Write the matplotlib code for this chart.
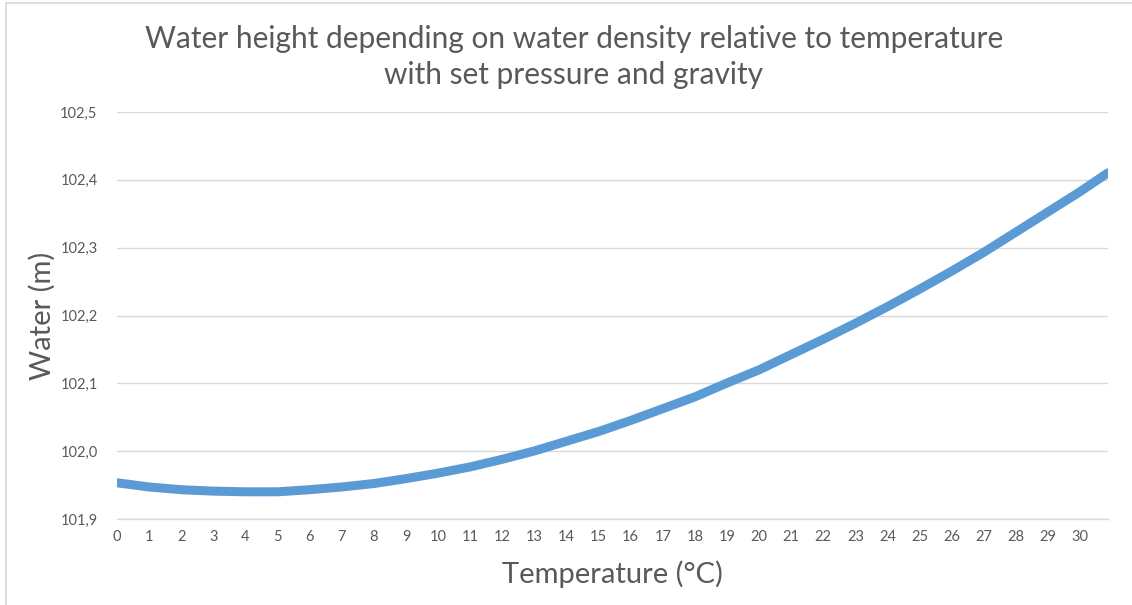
import matplotlib
matplotlib.use('Agg')
import matplotlib.pyplot as plt
from matplotlib.lines import Line2D
from matplotlib.ticker import FuncFormatter

# Temperature (°C) and water height (m)
temperature = [0, 1, 2, 3, 4, 5, 6, 7, 8, 9, 10, 11, 12, 13, 14, 15,
               16, 17, 18, 19, 20, 21, 22, 23, 24, 25, 26, 27, 28, 29, 30, 30.87]
height = [101.9535, 101.9473, 101.9433, 101.9412, 101.9402, 101.9402, 101.9433,
          101.9473, 101.9524, 101.9596, 101.9677, 101.9769, 101.9881, 102.0004,
          102.0147, 102.0290, 102.0453, 102.0627, 102.0801, 102.1005, 102.1199,
          102.1425, 102.1650, 102.1885, 102.2131, 102.2388, 102.2654, 102.2931,
          102.3229, 102.3527, 102.3825, 102.4103]

x_ticks = list(range(0, 31))
y_ticks = [101.9, 102.0, 102.1, 102.2, 102.3, 102.4, 102.5]

TEXT = "#595959"
GRID = "#D9D9D9"
LINE = "#5B9BD5"

plt.rcParams['font.family'] = ['Lato', 'DejaVu Sans']

fig = plt.figure(figsize=(11.32, 6.05), dpi=100)
ax = fig.add_axes([0.1034, 0.142, 0.8754, 0.673])

ax.plot(temperature, height, color=LINE, linewidth=6.5, solid_capstyle='round',
        solid_joinstyle='round', zorder=3)

ax.set_xlim(0, 30.87)
ax.set_ylim(101.9, 102.5)
ax.set_xticks(x_ticks)
ax.set_yticks(y_ticks)
ax.yaxis.set_major_formatter(FuncFormatter(lambda v, p: f"{v:.1f}".replace(".", ",")))
ax.tick_params(length=0, labelsize=10.5, colors=TEXT)
ax.tick_params(axis='y', pad=14)
ax.tick_params(axis='x', pad=8)

ax.grid(True, axis='y', color=GRID, linewidth=1)
for s in ['top', 'right', 'left']:
    ax.spines[s].set_visible(False)
ax.spines['bottom'].set_color(GRID)
ax.spines['bottom'].set_linewidth(1)

ax.set_xlabel("Temperature (°C)", fontsize=21, color=TEXT, labelpad=12)
ax.set_ylabel("Water (m)", fontsize=21, color=TEXT, labelpad=3)
fig.suptitle("Water height depending on water density relative to temperature\n"
             "with set pressure and gravity",
             fontsize=21.5, color=TEXT, y=0.958, x=0.507, linespacing=1.35)

# chart frame (left and top edges visible in the reference)
fig.add_artist(Line2D([0.0055, 0.0055], [0, 0.995], color=GRID, linewidth=1.2))
fig.add_artist(Line2D([0.0055, 1], [0.995, 0.995], color=GRID, linewidth=1.2))

plt.savefig("out.png", dpi=100)
plt.close()
